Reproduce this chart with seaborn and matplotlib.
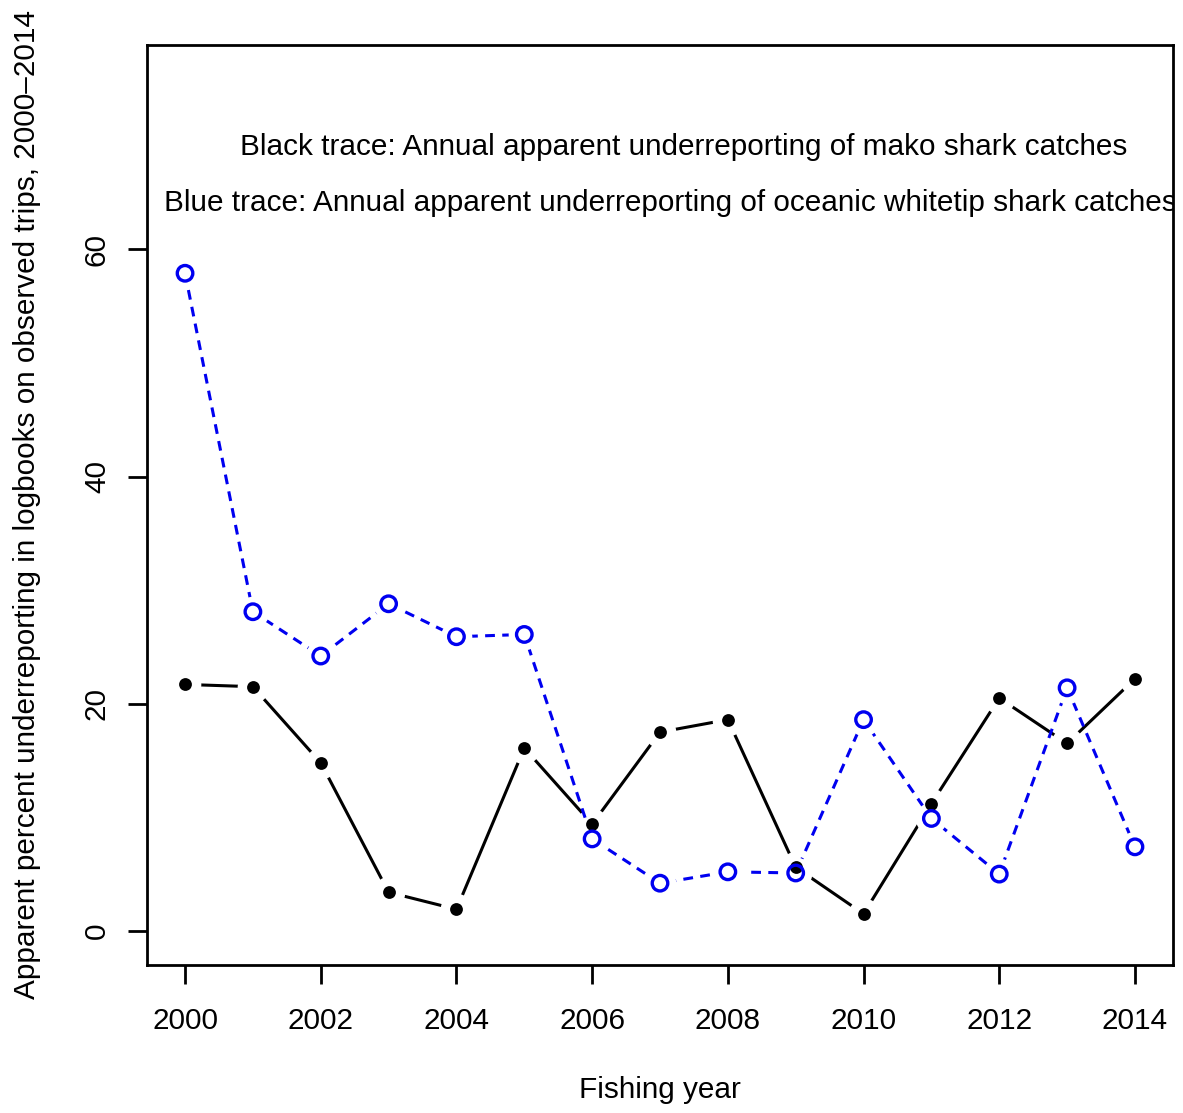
import matplotlib
matplotlib.use("Agg")
import matplotlib.pyplot as plt
import seaborn as sns
import pandas as pd

years = list(range(2000, 2015))
mako = [21.7, 21.5, 14.8, 3.4, 1.9, 16.1, 9.4, 17.5, 18.6, 5.6, 1.5, 11.2, 20.5, 16.5, 22.2]
whitetip = [57.9, 28.1, 24.2, 28.8, 25.9, 26.1, 8.1, 4.2, 5.2, 5.1, 18.6, 9.9, 5.0, 21.4, 7.4]
xticks = list(range(2000, 2015, 2))
yticks = [0, 20, 40, 60]
note_black = "Black trace: Annual apparent underreporting of mako shark catches"
note_blue = "Blue trace: Annual apparent underreporting of oceanic whitetip shark catches"
xlabel = "Fishing year"
ylabel = "Apparent percent underreporting in logbooks on observed trips, 2000\u20132014"

sns.set_style("ticks")
plt.rcParams['font.family'] = ['Liberation Sans', 'DejaVu Sans']
plt.rcParams['text.color'] = 'black'
plt.rcParams['axes.labelcolor'] = 'black'
plt.rcParams['xtick.color'] = 'black'
plt.rcParams['ytick.color'] = 'black'

df_m = pd.DataFrame({"year": years, "val": mako})
df_w = pd.DataFrame({"year": years, "val": whitetip})

fig = plt.figure(figsize=(11.83, 11.13), dpi=100)
ax = fig.add_axes([0.1243, 0.1330, 0.9915 - 0.1243, 0.9596 - 0.1330])

# R type="b": lines with gaps around the points (white discs under the markers)
sns.lineplot(data=df_m, x="year", y="val", ax=ax, color="black", lw=2.2, zorder=1)
sns.scatterplot(data=df_m, x="year", y="val", ax=ax, color="white", s=520,
                linewidth=0, zorder=2)
sns.lineplot(data=df_w, x="year", y="val", ax=ax, color="#0000f0", lw=2.2, zorder=4)
ax.lines[-1].set_linestyle((0, (3.2, 2.4)))
sns.scatterplot(data=df_w, x="year", y="val", ax=ax, color="white", s=520,
                linewidth=0, zorder=5)

sns.scatterplot(data=df_m, x="year", y="val", ax=ax, color="black", s=85,
                edgecolor="black", linewidth=0, zorder=7)
sns.scatterplot(data=df_w, x="year", y="val", ax=ax, facecolor="none",
                edgecolor="#0000f0", s=125, linewidth=2.4, zorder=8)

ax.set_xlim(2000 - 0.56, 2014 + 0.56)
ax.set_ylim(-3, 78)
ax.set_xticks(xticks)
ax.set_xticklabels([str(t) for t in xticks])
ax.set_yticks(yticks)
ax.set_yticklabels([str(t) for t in yticks], rotation=90, va="center")
ax.tick_params(axis="both", length=14, width=2, labelsize=21.4, color="black",
               labelcolor="black")
ax.tick_params(axis="x", pad=16)
ax.tick_params(axis="y", pad=12)
for s in ax.spines.values():
    s.set_linewidth(2)
    s.set_color("black")
    s.set_zorder(10)

ax.text(2007.35, 69.0, note_black, ha="center", va="center", fontsize=21.4,
        color="black", clip_on=True)
ax.text(2007.16, 64.1, note_blue, ha="center", va="center", fontsize=21.4,
        color="black", clip_on=True)

ax.set_xlabel(xlabel, fontsize=21.4, labelpad=30, color="black")
ax.set_ylabel(ylabel, fontsize=21.4, labelpad=30, color="black")

fig.savefig("out.png", dpi=100)
